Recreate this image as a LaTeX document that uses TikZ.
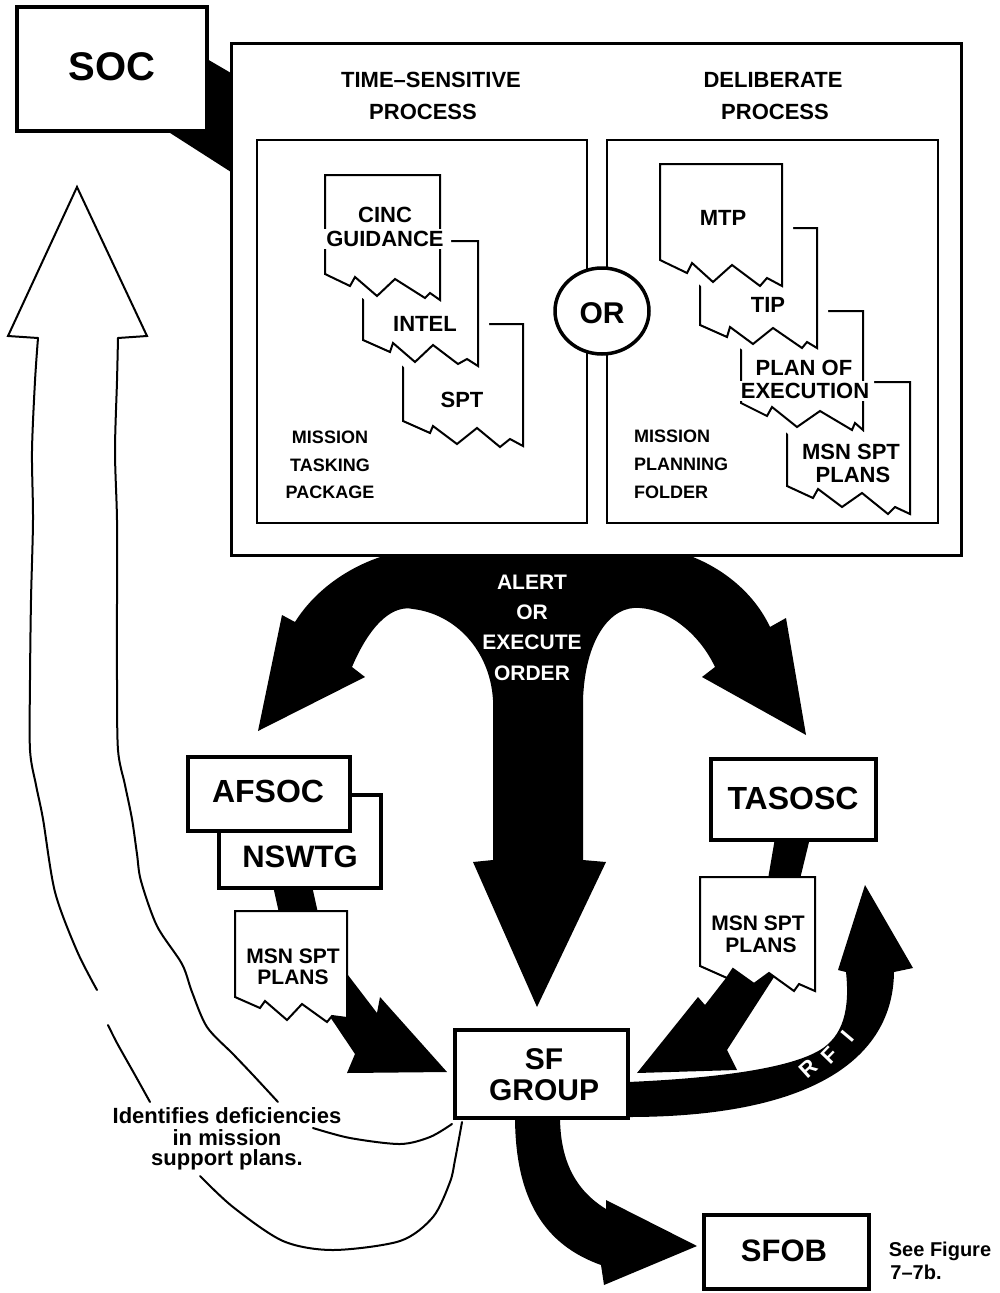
\documentclass[tikz,border=0pt]{standalone}
\usepackage{fontspec}
\setmainfont{Liberation Sans}
\begin{document}
\begin{tikzpicture}[x=1pt,y=-1pt,
  lbl/.style={font=\bfseries\fontsize{#1}{#1}\selectfont, inner sep=1pt},
  wlbl/.style={lbl=#1, fill=white, inner sep=2.5pt},
  whitelbl/.style={lbl=#1, text=white},
  bigframe/.style={draw, line width=3pt},
  innerframe/.style={draw, line width=2.5pt},
  orgbox/.style={draw, fill=white, line width=3.5pt, inner sep=0pt},
  sheet/.style={fill=white, draw, line width=2pt, line join=miter, preaction={draw=white, line width=22pt, line join=round}},
  plainsheet/.style={fill=white, draw, line width=2pt, line join=miter},
  thinline/.style={line width=2pt, line cap=round, line join=round},
]
\useasboundingbox (0,0) rectangle (999,1293);

% ---------- link SOC -> process box
\fill (207,59) -- (231,73) -- (231,172) -- (167,131) -- (207,131) -- cycle;

% ---------- T-shaped alert/execute arrow
\fill (390,554) .. controls (350,565) and (315,590) .. (295,622) -- (282,615) -- (258,731) -- (365,677) -- (352,667)
  .. controls (372,620) and (395,605) .. (413,609) .. controls (455,614) and (490,650) .. (493,700)
  -- (493,860) -- (473,862) -- (537,1007) -- (606,862) -- (583,860) -- (583,700)
  .. controls (585,640) and (610,605) .. (640,608) .. controls (670,610) and (700,635) .. (715,667)
  -- (702,677) -- (806,735) -- (786,618) -- (770,627) .. controls (755,595) and (725,568) .. (685,554) -- cycle;

% ---------- big process box
\node[bigframe, fill=white, minimum width=730pt, minimum height=512pt, inner sep=0pt] (proc) at (596,299) {};

% ---------- time-sensitive stack (back to front)
\draw[sheet] (403,324) -- (523,324) -- (523,446) -- (510,439) -- (500,447) -- (477,428) -- (457,444) -- (433,426) -- (430,433) -- (403,421) -- cycle;
\draw[sheet] (363,241) -- (478,241) -- (478,366) -- (467,359) -- (458,364) -- (433,345) -- (415,362) -- (393,343) -- (390,352) -- (363,340) -- cycle;
\draw[sheet] (325,175) -- (440,175) -- (440,300) -- (430,293) -- (425,298) -- (395,279) -- (377,296) -- (355,277) -- (350,286) -- (325,274) -- cycle;

% ---------- deliberate stack (back to front)
\draw[sheet] (787,382) -- (910,382) -- (910,514) -- (895,507) -- (888,514) -- (862,493) -- (842,507) -- (818,489) -- (813,498) -- (787,486) -- cycle;
\draw[sheet] (741,311) -- (863,311) -- (863,430) -- (855,423) -- (852,430) -- (820,411) -- (797,427) -- (772,407) -- (767,416) -- (741,403) -- cycle;
\draw[sheet] (700,228) -- (817,228) -- (817,348) -- (807,342) -- (802,348) -- (773,328) -- (753,344) -- (730,327) -- (727,337) -- (700,325) -- cycle;
\draw[sheet] (660,164) -- (782,164) -- (782,286) -- (767,278) -- (760,286) -- (732,265) -- (713,282) -- (692,263) -- (687,273) -- (660,260) -- cycle;

% ---------- inner frames and OR
\node[innerframe, minimum width=330pt, minimum height=383pt, inner sep=0pt] (tsbox) at (422,331.5) {};
\node[innerframe, minimum width=331pt, minimum height=383pt, inner sep=0pt] (dpbox) at (772.5,331.5) {};
\draw[line width=3.5pt, fill=white] (602,311) ellipse [x radius=47pt, y radius=43pt];
\node[lbl=30] (or) at (602,313) {OR};

% ---------- titles
\node[lbl=22] (ts1) at (431,80) {TIME–SENSITIVE};
\node[lbl=22] (ts2) at (423,112) {PROCESS};
\node[lbl=22] (dp1) at (773,80) {DELIBERATE};
\node[lbl=22] (dp2) at (775,112) {PROCESS};

% ---------- sheet texts
\node[wlbl=22] (cinc) at (385,215) {CINC};
\node[wlbl=22] (guid) at (385,239) {GUIDANCE};
\node[lbl=22] (intel) at (425,324) {INTEL};
\node[lbl=22] (spt) at (462,400) {SPT};
\node[lbl=18] (mtp1) at (330,437) {MISSION};
\node[lbl=18] (mtp2) at (330,465) {TASKING};
\node[lbl=18] (mtp3) at (330,492) {PACKAGE};

\node[lbl=22] (mtp) at (723,218) {MTP};
\node[lbl=22] (tip) at (768,305) {TIP};
\node[wlbl=22] (poe1) at (804,368) {PLAN OF};
\node[wlbl=22] (poe2) at (805,391) {EXECUTION};
\node[lbl=22] (msp1) at (851,452) {MSN SPT};
\node[lbl=22] (msp2) at (853,475) {PLANS};
\node[lbl=18, anchor=west] (mpf1) at (633,436) {MISSION};
\node[lbl=18, anchor=west] (mpf2) at (633,464) {PLANNING};
\node[lbl=18, anchor=west] (mpf3) at (633,492) {FOLDER};

% ---------- SOC
\node[orgbox, line width=4pt, minimum width=190pt, minimum height=124pt] (soc) at (112,69) {};
\node[lbl=40] (soct) at (112,67) {SOC};

% ---------- alert text
\node[whitelbl=21] (al1) at (532,582) {ALERT};
\node[whitelbl=21] (al2) at (532,612) {OR};
\node[whitelbl=21] (al3) at (532,642) {EXECUTE};
\node[whitelbl=21] (al4) at (532,673) {ORDER};

% ---------- black arrows in the lower part
\fill (273,886) -- (312,886) -- (318,913) -- (279,913) -- cycle;
\fill (775,838) -- (810,838) -- (800,879) -- (768,879) -- cycle;
\fill (338,962) -- (377,1013) -- (380,997) -- (447,1072) -- (347,1073) -- (355,1054) -- (312,990) -- cycle;
\fill (740,960) -- (705,1005) -- (698,997) -- (637,1073) -- (737,1070) -- (727,1050) -- (785,960) -- cycle;
\fill (628,1082) .. controls (720,1078) and (790,1068) .. (820,1050) .. controls (843,1036) and (850,1010) .. (846,972)
  -- (838,970) -- (865,885) -- (913,968) -- (894,972)
  .. controls (893,1060) and (810,1117) .. (628,1117) -- cycle;
\fill (515,1116) .. controls (515,1200) and (545,1245) .. (601,1265) -- (604,1285) -- (697,1246) -- (606,1200) -- (606,1209)
  .. controls (575,1190) and (560,1160) .. (560,1116) -- cycle;

% ---------- lower sheets
\draw[plainsheet] (235,911) -- (347,911) -- (347,1018) -- (332,1016) -- (327,1022) -- (302,1004) -- (287,1020) -- (265,1001) -- (260,1008) -- (235,997) -- cycle;
\node[wlbl=21, inner sep=1pt] (amsp1) at (293,956) {MSN SPT};
\node[lbl=21] (amsp2) at (293,977) {PLANS};
\draw[plainsheet] (700,877) -- (815,877) -- (815,991) -- (799,984) -- (794,991) -- (769,973) -- (754,984) -- (733,969) -- (727,978) -- (700,966) -- cycle;
\node[lbl=21] (tmsp1) at (758,923) {MSN SPT};
\node[lbl=21] (tmsp2) at (761,945) {PLANS};

% ---------- organisation boxes
\node[orgbox, minimum width=162pt, minimum height=93pt] (nswtg) at (300,841.5) {};
\node[lbl=31] (nswtgt) at (300,857) {NSWTG};
\node[orgbox, minimum width=162pt, minimum height=74pt] (afsoc) at (269,794) {};
\node[lbl=32] (afsoct) at (268,791) {AFSOC};
\node[orgbox, minimum width=165pt, minimum height=81pt] (tasosc) at (793.5,799.5) {};
\node[lbl=32] (tasosct) at (793,798) {TASOSC};
\node[orgbox, minimum width=173pt, minimum height=88pt] (sfg) at (541.5,1074) {};
\node[lbl=30] (sfg1) at (544,1059) {SF};
\node[lbl=30] (sfg2) at (544,1090) {GROUP};
\node[orgbox, minimum width=165pt, minimum height=74pt] (sfob) at (786.5,1252) {};
\node[lbl=31] (sfobt) at (784,1251) {SFOB};

% ---------- RFI label
\node[whitelbl=22, rotate=42] (rfi1) at (808,1069) {R};
\node[whitelbl=22, rotate=46] (rfi2) at (830,1055) {F};
\node[whitelbl=22, rotate=50] (rfi3) at (848,1036) {I};

% ---------- see figure
\node[lbl=20] (see1) at (940,1251) {See Figure};
\node[lbl=20] (see2) at (916,1272) {7–7b.};

% ---------- hollow return arrow to SOC
\draw[thinline, line join=miter] (38,338) -- (8,336) -- (77,187) -- (147,336) -- (118,338);
\draw[thinline] plot[smooth] coordinates {(38,338) (35,381) (32,451) (33,520) (31,600) (30,680) (30,750) (36,785) (43,819) (55,892) (77,951) (97,990)};
\draw[thinline] plot[smooth] coordinates {(108,1025) (117,1043) (135,1075) (150,1102)};
\draw[thinline] plot[smooth] coordinates {(118,338) (117,381) (115,451) (117,520) (117,600) (117,680) (118,750) (125,785) (132,819) (137,854) (141,881) (157,926) (182,964) (192,992) (207,1027) (233,1054) (253,1075) (278,1102)};

\node[lbl=22] (id1) at (227,1116) {Identifies deficiencies};
\node[lbl=22] (id2) at (227,1138) {in mission};
\node[lbl=22] (id3) at (227,1160) {support plans.};

\draw[thinline] plot[smooth] coordinates {(313,1128) (350,1138) (400,1144) (430,1137) (452,1124)};
\draw[thinline] plot[smooth] coordinates {(462,1122) (455,1160) (450,1182) (433,1217) (400,1241) (333,1250) (283,1241) (233,1207) (200,1176)};
\end{tikzpicture}
\end{document}
